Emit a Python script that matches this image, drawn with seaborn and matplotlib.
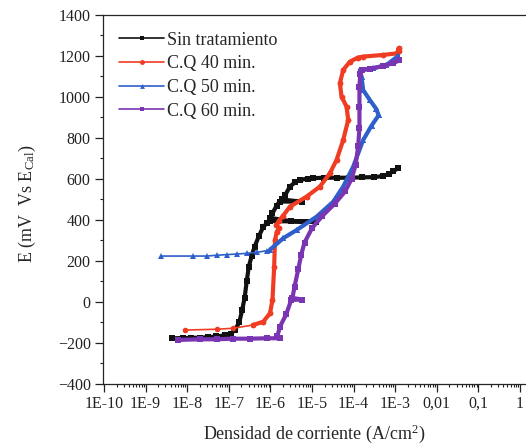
import numpy as np
import pandas as pd
import matplotlib
matplotlib.use("Agg")
import matplotlib.pyplot as plt
from matplotlib.ticker import FixedLocator, FixedFormatter, LogLocator, NullFormatter, MultipleLocator
from matplotlib.lines import Line2D
import seaborn as sns

# ---------------- data ----------------
series_names = ["Sin tratamiento", "C.Q 40 min.", "C.Q 50 min.", "C.Q 60 min."]

# log10 of current density (A/cm2) and potential (mV vs E_Cal)
sin_logj = [-8.37, -8.10, -7.90, -7.70, -7.50, -7.30, -7.10, -6.95, -6.85, -6.75,
            -6.68, -6.62, -6.57, -6.52, -6.45, -6.38, -6.28, -6.17, -6.08, -6.02,
            -5.50, -4.90, -5.50, -6.00, -5.95, -5.85, -5.78, -5.25, -5.72, -5.65,
            -5.53, -5.40, -5.29, -5.10, -4.97, -4.70, -4.40, -4.10, -3.80, -3.50,
            -3.30, -3.15, -3.05, -2.93]
sin_E = [-177, -176, -175, -174, -172, -168, -163, -155, -135, -100,
         -40, 20, 100, 172, 225, 270, 320, 367, 385, 395,
         393, 392, 394, 410, 433, 470, 490, 489, 500, 520,
         563, 585, 595, 602, 604, 606, 606, 606, 608, 609,
         614, 624, 638, 652]

q40_logj = [-8.05, -7.29, -6.89, -6.41, -6.17, -6.01, -5.95, -5.91, -5.89, -5.85,
            -5.80, -5.86, -5.80, -5.70, -5.53, -5.13, -4.81, -4.57, -4.41, -4.25,
            -4.13, -4.17, -4.29, -4.33, -4.25, -4.09, -3.90, -3.77, -3.29, -2.95,
            -2.92, -2.90]
q40_E = [-137, -133, -128, -112, -96, -55, 10, 172, 300, 340,
         360, 375, 395, 420, 465, 514, 563, 628, 693, 790,
         888, 953, 1002, 1067, 1132, 1172, 1192, 1197, 1205, 1213,
         1238, 1222]

q50_logj = [-8.63, -7.85, -7.53, -7.29, -7.05, -6.81, -6.57, -6.33, -6.09, -6.01,
            -5.69, -5.37, -4.89, -4.49, -4.25, -4.01, -3.77, -3.57, -3.40, -3.45,
            -3.61, -3.77, -3.81, -3.85, -3.53, -3.21, -2.93]
q50_E = [224, 224, 224, 228, 231, 234, 237, 242, 250, 255,
         311, 351, 416, 489, 563, 660, 790, 860, 910, 940,
         985, 1034, 1099, 1132, 1140, 1156, 1200]

q60_logj = [-8.21, -7.69, -7.29, -6.89, -6.49, -6.09, -5.77, -5.83, -5.77, -5.62,
            -5.50, -5.25, -5.47, -5.42, -5.33, -5.26, -5.18, -5.00, -4.75, -4.45,
            -4.20, -4.05, -3.95, -3.89, -3.86, -3.86, -3.86, -3.84, -3.80, -3.60,
            -3.30, -3.05, -2.90]
q60_E = [-185, -182, -182, -179, -179, -177, -177, -165, -120, -60,
         10, 12, 20, 75, 160, 230, 290, 360, 420, 480,
         540, 600, 670, 760, 850, 950, 1050, 1110, 1130, 1138,
         1150, 1165, 1178]

x_tick_exponents = [-10, -9, -8, -7, -6, -5, -4, -3, -2, -1, 0]
x_tick_labels = ["1E-10", "1E-9", "1E-8", "1E-7", "1E-6", "1E-5", "1E-4", "1E-3",
                 "0,01", "0,1", "1"]
y_ticks = [-400, -200, 0, 200, 400, 600, 800, 1000, 1200, 1400]

# ---------------- style ----------------
colors = ["#111111", "#f03c22", "#2f5fcb", "#7a35b2"]
markers = ["s", "o", "^", "s"]
thin_until = [0, 4, 10, 0]   # points drawn with a thin line before the dense part

sns.set_theme(style="ticks")
plt.rcParams["font.family"] = ["Liberation Serif", "DejaVu Serif"]
plt.rcParams["mathtext.fontset"] = "custom"
plt.rcParams["mathtext.rm"] = "Liberation Serif"
plt.rcParams["mathtext.it"] = "Liberation Serif:italic"
plt.rcParams["axes.linewidth"] = 0.9

frames = []
for name, lj, e in zip(series_names,
                       [sin_logj, q40_logj, q50_logj, q60_logj],
                       [sin_E, q40_E, q50_E, q60_E]):
    frames.append(pd.DataFrame({"serie": name, "j": np.power(10.0, lj), "E": e}))
df = pd.concat(frames, ignore_index=True)

fig = plt.figure(figsize=(5.26, 4.48), dpi=100)
ax = fig.add_axes([0.1949, 0.1429, 0.8728, 0.8237])
ax.set_xscale("log")

for name, c, m, k in zip(series_names, colors, markers, thin_until):
    d = df[df["serie"] == name].reset_index(drop=True)
    sns.lineplot(data=d, x="j", y="E", sort=False, estimator=None, ax=ax,
                 color=c, lw=1.2, marker=m, markersize=4, markeredgewidth=0)
    sns.lineplot(data=d.iloc[max(k - 1, 0):], x="j", y="E", sort=False, estimator=None,
                 ax=ax, color=c, lw=3.0, marker=m, markersize=4, markeredgewidth=0)

ax.set_xlim(10 ** -10.036, 10 ** 1)
ax.set_ylim(-400, 1400)

ax.xaxis.set_major_locator(FixedLocator([10.0 ** p for p in x_tick_exponents]))
ax.xaxis.set_major_formatter(FixedFormatter(x_tick_labels))
ax.xaxis.set_minor_locator(LogLocator(base=10, subs=np.arange(2, 10), numticks=40))
ax.xaxis.set_minor_formatter(NullFormatter())
ax.yaxis.set_major_locator(FixedLocator(y_ticks))
ax.yaxis.set_minor_locator(MultipleLocator(100))

ax.tick_params(which="major", direction="out", length=5.5, width=0.9, labelsize=11.5,
               pad=3, colors="#222222")
ax.tick_params(which="minor", direction="out", length=2.5, width=0.8, colors="#222222")
ax.tick_params(top=False, right=False, which="both")

ax.set_xlabel("Densidad de corriente (A/cm$\\mathregular{^2}$)", fontsize=13, labelpad=8)
ax.set_ylabel("E (mV  Vs E$\\mathregular{_{Cal}}$)", fontsize=13, labelpad=14)
ax.xaxis.label.set_x(0.462)
ax.yaxis.label.set_y(0.489)

handles = [Line2D([], [], color=c, lw=1.2, marker=m, markersize=3.5, markeredgewidth=0)
           for c, m in zip(colors, markers)]
ax.legend(handles, series_names, loc="upper left", bbox_to_anchor=(0.036, 0.955),
          frameon=False, fontsize=13, handlelength=2.5, handletextpad=0.15,
          labelspacing=0.37, borderpad=0, borderaxespad=0)

fig.savefig("out.png", dpi=100)
